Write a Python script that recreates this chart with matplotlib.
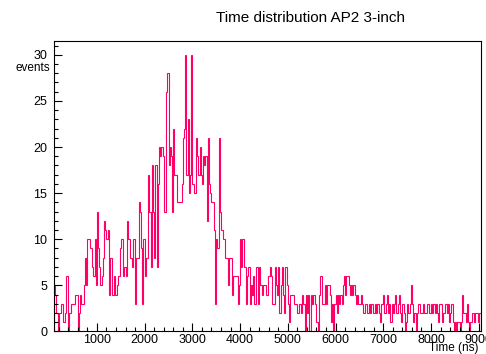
import numpy as np
import matplotlib.pyplot as plt
from matplotlib.ticker import MultipleLocator

# histogram contents, 25 ns bins from 100 ns to 9050 ns
rise = [5, 4, 2, 0, 2, 2, 3, 3, 1, 2, 6, 6, 0, 2, 3, 3, 3, 3, 4, 4,
        0, 2, 4, 3, 3, 5, 8, 5, 10, 10, 9, 9, 7, 6, 10, 5, 13, 9, 7, 5,
        6, 8, 12, 11, 10, 11, 4, 8, 8, 4, 6, 4, 4, 5, 6, 9, 10, 10, 6, 7,
        6, 12, 10, 10, 8, 7, 10, 10, 3, 8, 8, 14, 13, 9, 3, 10, 6, 8, 8, 17,
        13, 7, 18, 13, 8, 18, 7, 16, 20, 19, 20, 19, 13, 13, 26, 28, 18, 20, 19, 13,
        22, 17, 17, 14, 14, 14, 14, 16, 21, 22, 30, 17, 23, 15, 17, 30, 16, 15, 15, 21,
        19, 17]
fall = [20, 17, 16, 19, 18, 19, 12, 21, 16, 15, 14, 14, 11, 3, 10, 9, 21, 13,
        11, 11, 10, 8, 8, 8, 5, 8, 8, 4, 6, 6, 6, 6, 3, 5, 10, 7,
        10, 7, 7, 3, 6, 7, 3, 5, 4, 6, 3, 7, 7, 3, 7, 5, 4, 5,
        5, 5, 4, 6, 6, 7, 6, 3, 3, 7, 5, 4, 7, 2, 5, 7, 4, 2,
        7, 5, 3, 1, 4, 4, 4, 3, 3, 3, 2, 3, 3, 2, 4, 3, 0, 4,
        2, 4, 0, 4, 3, 4, 4, 3, 1, 0, 4, 6, 6, 3, 3, 5, 3, 5,
        5, 4, 1, 3, 0, 3, 4, 2, 4, 3]
tail = [4, 3, 5, 6, 4, 6, 6, 5, 4, 5, 4, 5, 4, 3, 4, 3, 3, 4,
        3, 2, 2, 3, 2, 2, 3, 2, 3, 2, 2, 3, 2, 3, 2, 1, 3, 3,
        4, 2, 3, 4, 2, 3, 1, 3, 2, 3, 4, 2, 3, 4, 2, 1, 3, 2,
        0, 1, 3, 2, 3, 5, 3, 1, 2, 0, 2, 3, 3, 2, 2, 3, 2, 2,
        2, 3, 2, 2, 3, 2, 3, 2, 3, 2, 1, 3, 3, 1, 2, 2, 3, 2,
        3, 1, 2, 3, 1, 0, 1, 0, 1, 1, 0, 1, 4, 2, 2, 1, 3, 1,
        0, 1, 2, 2, 1, 2, 2, 1, 2, 2]

counts = np.array(rise + fall + tail)
t_min, t_max = 100, 9050
edges = np.linspace(t_min, t_max, len(counts) + 1)

fig = plt.figure(figsize=(4.86, 3.54), dpi=100)
plt.rcParams['font.family'] = ['Liberation Sans', 'DejaVu Sans']
ax = fig.add_axes([0.111, 0.0636, 0.879, 0.8206])

ax.stairs(counts, edges, color='#ff0066', linewidth=0.8, baseline=0)

ax.set_xlim(t_min, t_max)
ax.set_ylim(0, 1.05 * counts.max())

ax.xaxis.set_major_locator(MultipleLocator(1000))
ax.xaxis.set_minor_locator(MultipleLocator(200))
ax.yaxis.set_major_locator(MultipleLocator(5))
ax.yaxis.set_minor_locator(MultipleLocator(1))
ax.tick_params(which='both', direction='in', top=False, right=False,
               labelsize=9, width=0.8)
ax.tick_params(which='major', length=6)
ax.tick_params(which='minor', length=3)
ax.tick_params(axis='x', pad=2)
ax.tick_params(axis='y', pad=5)
for s in ax.spines.values():
    s.set_linewidth(0.8)

fig.text(0.638, 0.948, 'Time distribution AP2 3-inch', ha='center',
         va='center', fontsize=11)
fig.text(0.068, 0.808, 'events', ha='center', va='center', fontsize=8.5)
fig.text(0.985, 0.0, 'Time (ns)', ha='right', va='bottom', fontsize=8.5)

fig.savefig('out.png', dpi=100)
